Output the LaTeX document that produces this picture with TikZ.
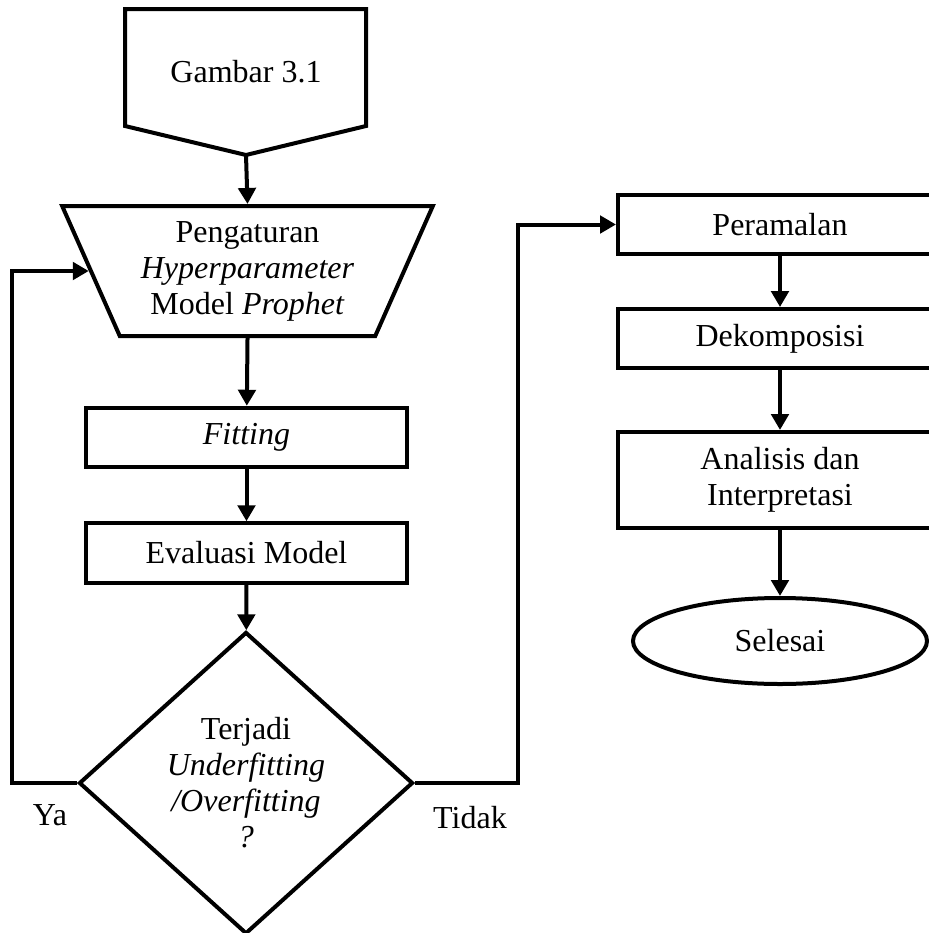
\documentclass[tikz,border=0pt]{standalone}
\usepackage{fontspec}
\setmainfont{Liberation Serif}
\usetikzlibrary{shapes.geometric,arrows.meta,calc}

\begin{document}
\begin{tikzpicture}[
  x=0.375pt, y=-0.375pt,
  every node/.style={font=\fontsize{12}{13.5}\selectfont, align=center},
  box/.style={rectangle, draw, line width=1.5pt, minimum width=120.4pt, minimum height=22.3pt, inner sep=1pt},
  rbox/.style={rectangle, draw, line width=1.5pt, minimum width=121.5pt, minimum height=22.1pt, inner sep=1pt},
  io/.style={trapezium, draw, line width=1.5pt, trapezium left angle=60, trapezium right angle=60,
    shape border rotate=180, trapezium stretches body=true, minimum width=139pt, minimum height=48.75pt, inner sep=0pt},
  decision/.style={diamond, draw, line width=1.5pt, aspect=1.1, minimum width=125.25pt, minimum height=113.25pt, inner sep=0pt},
  term/.style={ellipse, draw, line width=1.5pt, minimum width=110.25pt, minimum height=32.25pt},
  arrow/.style={-{Triangle[length=6pt, width=6.5pt]}, line width=1.5pt},
]
\clip (0,0) rectangle (929,933);

% === kiri: pemodelan ===
\draw[line width=1.5pt, line join=miter] (125,9) -- (366,9) -- (366,126) -- (246,155) -- (125,126) -- cycle;
\node (gbr) at (246,72) {Gambar 3.1};
\coordinate (gtip) at (246,155);

\node[io] (atur) at (247.5,271) {Pengaturan\\\textit{Hyperparameter}\\Model \textit{Prophet}};
\node[box] (fit) at (246.5,437.5) {\textit{Fitting}};
\node[box] (eval) at (246.5,553) {Evaluasi Model};
\node[decision] (cek) at (246,783) {Terjadi\\\textit{Underfitting}\\\textit{/Overfitting}\\\textit{?}};

\draw[arrow] (gtip) -- (atur.north);
\draw[arrow] (atur.south) -- (fit);
\draw[arrow] (fit) -- (eval);
\draw[arrow] (eval) -- (cek);

\draw[arrow] (cek.west) -- ++(-65,0) |- (atur.west);
\node (ya) at (50,815) {Ya};

% === kanan: peramalan ===
\node[rbox] (ramal) at (780,224.5) {Peramalan};
\node[rbox] (dekom) at (780,338.5) {Dekomposisi};
\node[rbox, minimum height=36pt] (anal) at (780,480) {Analisis dan\\Interpretasi};
\node[term] (selesai) at (780,641) {Selesai};

\draw[arrow] (cek.east) -- ++(103,0) |- (ramal.west);
\node (tidak) at (470,818) {Tidak};

\draw[arrow] (ramal) -- (dekom);
\draw[arrow] (dekom) -- (anal);
\draw[arrow] (anal) -- (selesai);

\end{tikzpicture}
\end{document}
